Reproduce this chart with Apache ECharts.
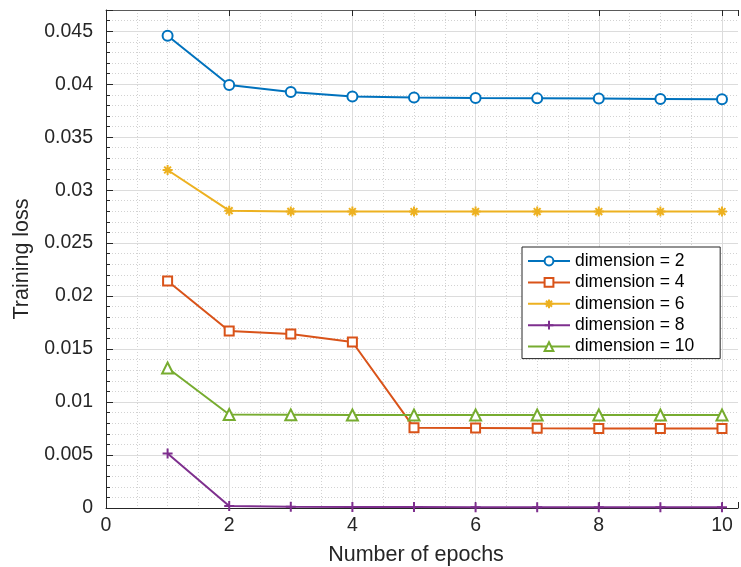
<!DOCTYPE html>
<html>
<head>
<meta charset="utf-8">
<script src="https://cdn.jsdelivr.net/npm/echarts@6/dist/echarts.min.js"></script>
<style>html,body{margin:0;padding:0;background:#fff}#c{width:741px;height:567px}</style>
</head>
<body>
<div id="c"></div>
<script>
const epochs = [1, 2, 3, 4, 5, 6, 7, 8, 9, 10];
const dim2  = [0.04457, 0.03992, 0.03926, 0.03884, 0.03874, 0.03869, 0.03866, 0.03864, 0.03860, 0.03857];
const dim4  = [0.02142, 0.01670, 0.01642, 0.01567, 0.00758, 0.00755, 0.00752, 0.00751, 0.00751, 0.00751];
const dim6  = [0.03190, 0.02806, 0.02799, 0.02798, 0.02798, 0.02798, 0.02798, 0.02798, 0.02798, 0.02798];
const dim8  = [0.00514, 0.00019, 0.00012, 0.00010, 0.00009, 0.00008, 0.00008, 0.00008, 0.00008, 0.00008];
const dim10 = [0.01321, 0.00882, 0.00879, 0.00878, 0.00878, 0.00878, 0.00878, 0.00878, 0.00878, 0.00878];
const seriesNames = ['dimension = 2', 'dimension = 4', 'dimension = 6', 'dimension = 8', 'dimension = 10'];
const xTitle = 'Number of epochs';
const yTitle = 'Training loss';

const FONT = "'Liberation Sans', Arial, Helvetica, sans-serif";
const AX = '#262626';
const MAJ = '#dcdcdc';
const MIN = '#d2d2d2';
const colors = ['#0072BD', '#D95319', '#EDB120', '#7E2F8E', '#77AC30'];
const symbols = [
  'emptyCircle',
  'emptyRect',
  'path://M0,5L10,5M5,0L5,10M1.6,1.6L8.4,8.4M8.4,1.6L1.6,8.4',
  'path://M0,5L10,5M5,0L5,10',
  'emptyTriangle'
];
const sizes = [10, 9, 10, 10, 11];
const datasets = [dim2, dim4, dim6, dim8, dim10];
const X_MAX = 10.26;

function yFmt(v) {
  const r = Math.round(v * 1000000) / 1000000;
  const q = r / 0.005;
  if (Math.abs(q - Math.round(q)) > 1e-6) return '';
  return String(+r.toFixed(3));
}
function xFmt(v) {
  return (Math.abs(v - Math.round(v)) < 1e-9 && v % 2 === 0 && v <= 10) ? String(v) : '';
}

const chart = echarts.init(document.getElementById('c'), null, {renderer: 'canvas'});
chart.setOption({
  animation: false,
  backgroundColor: '#fff',
  textStyle: {fontFamily: FONT},
  grid: {left: 106, top: 10, right: 0, bottom: 59, containLabel: false},
  xAxis: [
    {
      type: 'value', min: 0, max: X_MAX, interval: 2, position: 'bottom', z: 2,
      axisLine: {show: true, lineStyle: {color: AX, width: 1}},
      axisTick: {show: true, inside: true, length: 6, lineStyle: {color: AX}},
      axisLabel: {fontSize: 19.5, color: AX, fontFamily: FONT, margin: 8, formatter: xFmt},
      splitLine: {show: true, showMaxLine: false, lineStyle: {color: MAJ, width: 1, type: 'solid'}}
    },
    {
      type: 'value', min: 0, max: X_MAX, interval: 0.5, position: 'bottom', z: 0,
      axisLine: {show: false}, axisTick: {show: false}, axisLabel: {show: false},
      splitLine: {show: true, showMaxLine: false, lineStyle: {color: MIN, width: 1, type: [1, 2]}}
    },
    {
      type: 'value', min: 0, max: X_MAX, interval: 2, position: 'top', z: 2,
      axisLine: {show: true, lineStyle: {color: '#5a5a5a', width: 1}},
      axisTick: {show: true, inside: true, length: 6, lineStyle: {color: AX}},
      axisLabel: {show: false}, splitLine: {show: false}
    }
  ],
  yAxis: [
    {
      type: 'value', min: 0, max: 0.047, interval: 0.005, position: 'left', z: 2,
      name: yTitle, nameLocation: 'middle', nameGap: 72,
      nameTextStyle: {fontSize: 21.5, color: AX, fontFamily: FONT},
      axisLine: {show: true, lineStyle: {color: AX, width: 1}},
      axisTick: {show: true, inside: true, length: 7, lineStyle: {color: AX}},
      axisLabel: {fontSize: 19.5, color: AX, fontFamily: FONT, margin: 13, formatter: yFmt},
      splitLine: {show: true, lineStyle: {color: MAJ, width: 1, type: 'solid'}}
    },
    {
      type: 'value', min: 0, max: 0.047, interval: 0.001, position: 'left', z: 0,
      axisLine: {show: false},
      axisTick: {show: true, inside: true, length: 4, lineStyle: {color: AX}},
      axisLabel: {show: false},
      splitLine: {show: true, lineStyle: {color: MIN, width: 1, type: [1, 2]}}
    }
  ],
  legend: {
    show: true, orient: 'vertical', left: 522, top: 247,
    itemWidth: 42, itemHeight: 11, itemGap: 3.4,
    padding: [5, 26, 3, 5],
    backgroundColor: '#fff', borderColor: AX, borderWidth: 1, borderRadius: 0,
    textStyle: {fontSize: 17.5, color: '#000', fontFamily: FONT, lineHeight: 18},
    data: seriesNames
  },
  graphic: [{
    type: 'text', z: 10, x: 416, y: 555,
    style: {text: xTitle, font: '21.5px ' + FONT, fill: AX, align: 'center', verticalAlign: 'middle'}
  }],
  series: datasets.map((d, i) => ({
    name: seriesNames[i],
    type: 'line',
    xAxisIndex: 0, yAxisIndex: 0,
    data: epochs.map((e, j) => [e, d[j]]),
    color: colors[i],
    symbol: symbols[i],
    symbolSize: sizes[i],
    showAllSymbol: true,
    lineStyle: {color: colors[i], width: 2},
    itemStyle: {color: colors[i], borderColor: colors[i], borderWidth: 2},
    emphasis: {disabled: true},
    z: 3 + i
  }))
});
</script>
</body>
</html>
